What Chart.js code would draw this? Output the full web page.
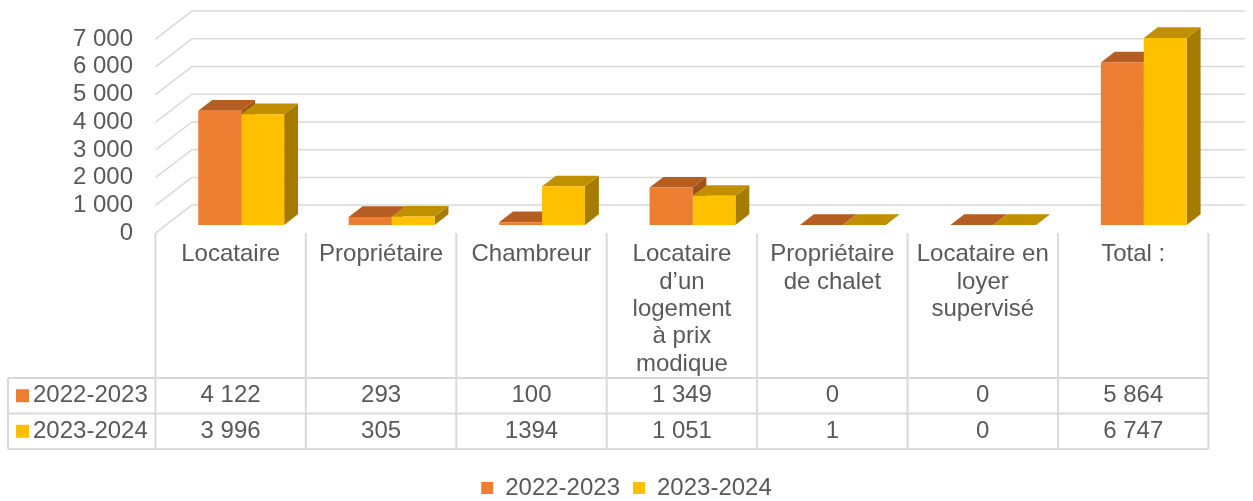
<!DOCTYPE html>
<html>
<head>
<meta charset="utf-8">
<script src="https://cdn.jsdelivr.net/npm/chart.js@4/dist/chart.umd.min.js"></script>
<style>
  html, body { margin: 0; padding: 0; background: #fff; }
  #wrap { width: 1253px; height: 501px; }
</style>
</head>
<body>
<div id="wrap"><canvas id="barChart"></canvas></div>
<script>
// data
const categories = [
  ['Locataire'],
  ['Propriétaire'],
  ['Chambreur'],
  ['Locataire', 'd’un', 'logement', 'à prix', 'modique'],
  ['Propriétaire', 'de chalet'],
  ['Locataire en', 'loyer', 'supervisé'],
  ['Total :']
];
const seriesNames = ['2022-2023', '2023-2024'];
const values2022 = [4122, 293, 100, 1349, 0, 0, 5864];
const values2023 = [3996, 305, 1394, 1051, 1, 0, 6747];
// the table prints the numbers as typed in the sheet
const tableText2022 = ['4 122', '293', '100', '1 349', '0', '0', '5 864'];
const tableText2023 = ['3 996', '305', '1394', '1 051', '1', '0', '6 747'];
const yMax = 7000;
const yStep = 1000;

const FONT = '"Liberation Sans", Arial, sans-serif';
const FONT_SIZE = 24;
const TEXT = '#595959';
const LINE = '#D9D9D9';

// fake 3d: depth of the whole box and where the bars stand in it
const DEPTH_X = 36.5, DEPTH_Y = -28;
const BAR_PLANE = 0.29, BAR_DEPTH = 0.38;
const FRONT_X = -BAR_PLANE * DEPTH_X, FRONT_Y = -BAR_PLANE * DEPTH_Y;
const BACK_X = (1 - BAR_PLANE) * DEPTH_X, BACK_Y = (1 - BAR_PLANE) * DEPTH_Y;

const fmt = v => String(v).replace(/\B(?=(\d{3})+(?!\d))/g, ' ');

function poly(ctx, pts) {
  ctx.beginPath();
  ctx.moveTo(pts[0][0], pts[0][1]);
  for (let i = 1; i < pts.length; i++) ctx.lineTo(pts[i][0], pts[i][1]);
  ctx.closePath();
  ctx.fill();
}

const rowTop = 378, rowH = 35.5, tableLeft = 8;

const box3d = {
  id: 'box3d',
  beforeDatasetsDraw(chart) {
    const { ctx, chartArea: a, scales: { x, y } } = chart;
    ctx.save();

    // side wall + back wall grid lines
    ctx.strokeStyle = LINE;
    ctx.lineWidth = 1.5;
    y.ticks.forEach(t => {
      const p = y.getPixelForValue(t.value);
      ctx.beginPath();
      ctx.moveTo(a.left + FRONT_X, p + FRONT_Y);
      ctx.lineTo(a.left + BACK_X, p + BACK_Y);
      ctx.lineTo(a.right + BACK_X, p + BACK_Y);
      ctx.stroke();
    });

    // data table lines
    const floor = y.getPixelForValue(0) + FRONT_Y;
    const left = a.left + FRONT_X, right = a.right + FRONT_X;
    const colW = (a.right - a.left) / categories.length;
    const bottom = rowTop + rowH * seriesNames.length;
    ctx.lineWidth = 2;
    for (let i = 0; i <= categories.length; i++) {
      const cx = left + i * colW;
      ctx.beginPath();
      ctx.moveTo(cx, floor);
      ctx.lineTo(cx, bottom);
      ctx.stroke();
    }
    ctx.beginPath();
    ctx.moveTo(tableLeft, rowTop);
    ctx.lineTo(tableLeft, bottom);
    ctx.stroke();
    for (let r = 0; r <= seriesNames.length; r++) {
      ctx.beginPath();
      ctx.moveTo(tableLeft, rowTop + r * rowH);
      ctx.lineTo(right, rowTop + r * rowH);
      ctx.stroke();
    }

    // top and side faces, fronts are drawn by chart.js afterwards
    const dx = BAR_DEPTH * DEPTH_X, dy = BAR_DEPTH * DEPTH_Y;
    chart.data.datasets.forEach((ds, i) => {
      chart.getDatasetMeta(i).data.forEach(bar => {
        const l = bar.x - bar.width / 2, r = bar.x + bar.width / 2;
        ctx.fillStyle = ds.sideColor;
        poly(ctx, [[r, bar.y], [r + dx, bar.y + dy], [r + dx, bar.base + dy], [r, bar.base]]);
        ctx.fillStyle = ds.topColor;
        poly(ctx, [[l, bar.y], [r, bar.y], [r + dx, bar.y + dy], [l + dx, bar.y + dy]]);
      });
    });
    ctx.restore();
  },
  afterDraw(chart) {
    const { ctx, scales: { x } } = chart;
    ctx.save();
    ctx.font = FONT_SIZE + 'px ' + FONT;
    ctx.fillStyle = TEXT;
    ctx.textBaseline = 'middle';
    const texts = [tableText2022, tableText2023];
    chart.data.datasets.forEach((ds, r) => {
      const cy = rowTop + r * rowH + rowH / 2;
      ctx.fillStyle = ds.backgroundColor;
      ctx.fillRect(16, cy - 6.5, 13, 13);
      ctx.fillStyle = TEXT;
      ctx.textAlign = 'left';
      ctx.fillText(ds.label, 33, cy);
      ctx.textAlign = 'center';
      texts[r].forEach((t, i) => {
        ctx.fillText(t, x.getPixelForValue(i) + FRONT_X, cy);
      });
    });
    ctx.restore();
  }
};

Chart.defaults.font.family = FONT;
Chart.defaults.font.size = FONT_SIZE;
Chart.defaults.color = TEXT;

new Chart(document.getElementById('barChart'), {
  type: 'bar',
  data: {
    labels: categories,
    datasets: [
      {
        label: seriesNames[0],
        data: values2022,
        backgroundColor: '#ED7D31',
        topColor: '#B65E22',
        sideColor: '#A0521C'
      }, {
        label: seriesNames[1],
        data: values2023,
        backgroundColor: '#FFC000',
        topColor: '#C09000',
        sideColor: '#A67C00'
      }
    ]
  },
  options: {
    responsive: true,
    maintainAspectRatio: false,
    devicePixelRatio: 1,
    animation: false,
    layout: { padding: { left: 0, right: 0, top: 31, bottom: 0 } },
    datasets: {
      bar: { categoryPercentage: 0.571, barPercentage: 1, borderWidth: 0 }
    },
    scales: {
      x: {
        grid: { display: false, drawTicks: false },
        border: { display: false },
        ticks: {
          autoSkip: false,
          maxRotation: 0,
          padding: 16,
          labelOffset: FRONT_X,
          font: { size: FONT_SIZE, lineHeight: 1.14 }
        },
        afterFit: s => { s.height = 238; }
      },
      y: {
        min: 0,
        max: yMax,
        grid: { display: false, drawTicks: false },
        border: { display: false },
        ticks: {
          autoSkip: false,
          stepSize: yStep,
          padding: 33,
          labelOffset: FRONT_Y,
          callback: v => fmt(v)
        },
        afterFit: s => { s.width = 166; s.paddingTop = 0; s.paddingBottom = 0; }
      },
      // empty strip on the right for the back wall overhang
      yRight: {
        position: 'right',
        grid: { display: false, drawTicks: false },
        border: { display: false },
        ticks: { display: false },
        afterFit: s => { s.width = 34; s.paddingTop = 0; s.paddingBottom = 0; }
      }
    },
    plugins: {
      legend: {
        position: 'bottom',
        maxHeight: 38,
        labels: { boxWidth: 12, boxHeight: 12, padding: 13, color: TEXT }
      },
      tooltip: { enabled: false }
    }
  },
  plugins: [box3d]
});
</script>
</body>
</html>
